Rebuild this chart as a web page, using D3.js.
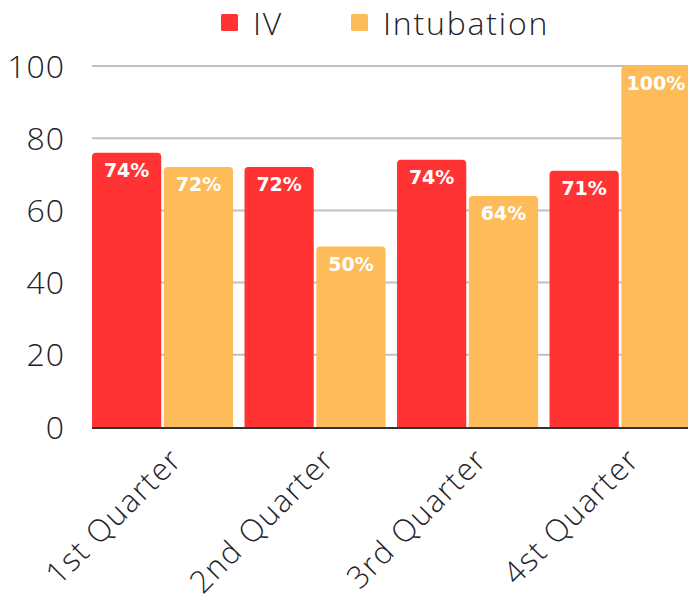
<!DOCTYPE html>
<html>
<head>
<meta charset="utf-8">
<script src="https://cdn.jsdelivr.net/npm/d3@7"></script>
<style>
  body { margin: 0; background: #fff; }
  svg { display: block; }
</style>
</head>
<body>
<div id="chart"></div>
<script>
var quarters = ['1st Quarter', '2nd Quarter', '3rd Quarter', '4st Quarter'];
var seriesNames = ['IV', 'Intubation'];
var ivValues = [76, 72, 74, 71];
var intubationValues = [72, 50, 64, 100];
var ivLabels = ['74%', '72%', '74%', '71%'];
var intubationLabels = ['72%', '50%', '64%', '100%'];
var yTicks = [0, 20, 40, 60, 80, 100];

var colors = ['#ff3333', '#fdbb5a'];
var width = 688, height = 605;
var textFont = '"Open Sans", sans-serif';
var labelFont = '"DejaVu Sans", sans-serif';

var svg = d3.select('#chart').append('svg')
  .attr('width', width)
  .attr('height', height);

var x = d3.scaleBand()
  .domain(quarters)
  .range([92, 690.6])
  .paddingInner(0.075)
  .paddingOuter(0);

var xSub = d3.scaleBand()
  .domain(seriesNames)
  .range([0, x.bandwidth()])
  .paddingInner(0.036);

var y = d3.scaleLinear()
  .domain([0, 100])
  .range([427, 66]);

// gridlines
svg.append('g')
  .selectAll('line')
  .data(yTicks.filter(function(d) { return d > 0; }))
  .enter()
  .append('line')
  .attr('x1', 92)
  .attr('x2', width)
  .attr('y1', function(d) { return y(d); })
  .attr('y2', function(d) { return y(d); })
  .attr('stroke', '#c0c0c5')
  .attr('stroke-width', 2);

// y tick labels
svg.append('g')
  .selectAll('text')
  .data(yTicks)
  .enter()
  .append('text')
  .attr('x', 65)
  .attr('y', function(d) { return y(d); })
  .attr('dy', '0.36em')
  .attr('text-anchor', 'end')
  .attr('font-family', textFont)
  .attr('font-weight', 300)
  .attr('font-size', 32)
  .attr('letter-spacing', 1)
  .attr('fill', '#1f2329')
  .text(function(d) { return d; });

var rows = quarters.map(function(q, i) {
  return [
    { q: q, s: seriesNames[0], v: ivValues[i], label: ivLabels[i] },
    { q: q, s: seriesNames[1], v: intubationValues[i], label: intubationLabels[i] }
  ];
});

function topRounded(x0, y0, w, h, r) {
  r = Math.min(r, w / 2, h);
  return 'M' + x0 + ',' + (y0 + h) +
    'V' + (y0 + r) +
    'Q' + x0 + ',' + y0 + ' ' + (x0 + r) + ',' + y0 +
    'H' + (x0 + w - r) +
    'Q' + (x0 + w) + ',' + y0 + ' ' + (x0 + w) + ',' + (y0 + r) +
    'V' + (y0 + h) + 'Z';
}

var groups = svg.append('g')
  .selectAll('g')
  .data(rows)
  .enter()
  .append('g')
  .attr('transform', function(d) { return 'translate(' + x(d[0].q) + ',0)'; });

var bars = groups.selectAll('g')
  .data(function(d) { return d; })
  .enter()
  .append('g');

bars.append('path')
  .attr('d', function(d) {
    return topRounded(xSub(d.s), y(d.v), xSub.bandwidth(), y(0) - y(d.v), 4);
  })
  .attr('fill', function(d) { return colors[seriesNames.indexOf(d.s)]; });

bars.append('text')
  .attr('x', function(d) { return xSub(d.s) + xSub.bandwidth() / 2; })
  .attr('y', function(d) { return y(d.v) + 24; })
  .attr('text-anchor', 'middle')
  .attr('font-family', labelFont)
  .attr('font-weight', 700)
  .attr('font-size', 19)
  .attr('fill', '#fff')
  .text(function(d) { return d.label; });

// zero axis line
svg.append('line')
  .attr('x1', 92)
  .attr('x2', width)
  .attr('y1', y(0) + 1)
  .attr('y2', y(0) + 1)
  .attr('stroke', '#30343a')
  .attr('stroke-width', 2);

// x labels, rotated
svg.append('g')
  .selectAll('text')
  .data(quarters)
  .enter()
  .append('text')
  .attr('transform', function(d) {
    return 'translate(' + (x(d) + x.bandwidth() / 2 + 6) + ',446) rotate(-45)';
  })
  .attr('text-anchor', 'end')
  .attr('dy', '0.7em')
  .attr('font-family', textFont)
  .attr('font-weight', 300)
  .attr('font-size', 31)
  .attr('letter-spacing', 1.5)
  .attr('fill', '#1f2329')
  .text(function(d) { return d; });

// legend
var legend = svg.append('g');
var legendPos = [221, 351];
seriesNames.forEach(function(name, i) {
  legend.append('rect')
    .attr('x', legendPos[i])
    .attr('y', 14)
    .attr('width', 17)
    .attr('height', 17)
    .attr('rx', 1.5)
    .attr('fill', colors[i]);
  legend.append('text')
    .attr('x', legendPos[i] + 32)
    .attr('y', 35)
    .attr('font-family', textFont)
    .attr('font-weight', 300)
    .attr('font-size', 32)
    .attr('letter-spacing', 1.8)
    .attr('fill', '#1f2329')
    .text(name);
});
</script>
</body>
</html>
